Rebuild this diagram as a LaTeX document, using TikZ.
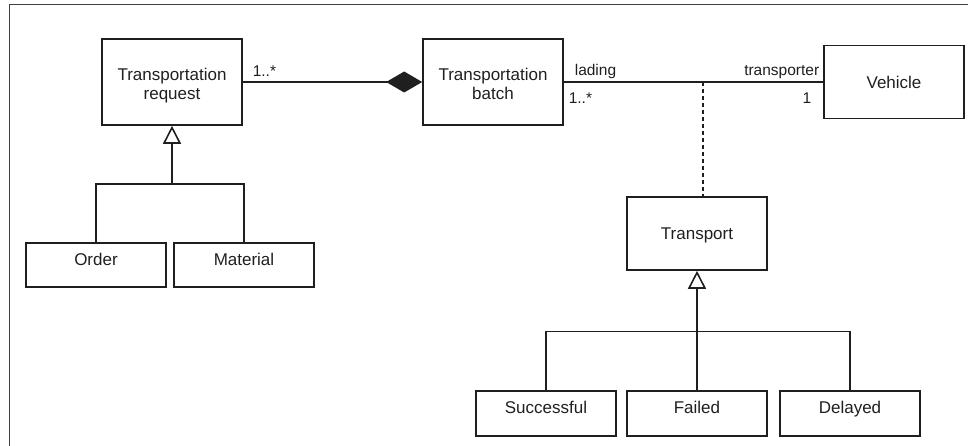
\documentclass[tikz,border=0pt]{standalone}
\usepackage{fontspec}
\setmainfont{Liberation Sans}
\usetikzlibrary{arrows.meta}
\begin{document}
\begin{tikzpicture}[x=1pt,y=-1pt,
  line width=1.6pt, color=black!88,
  cls/.style={draw, minimum width=140pt, inner sep=0pt, align=center,
    font=\fontsize{17}{19}\selectfont},
  twoline/.style={cls, minimum height=86pt, text height=40pt, text depth=4pt},
  single/.style={cls, minimum height=73pt},
  leaf/.style={cls, minimum height=44pt, text height=11pt, text depth=11pt},
  role/.style={inner sep=0pt, font=\fontsize{15.5}{17}\selectfont},
  gen/.style={-{Triangle[open, fill=white, length=18pt, width=18pt]}},
  comp/.style={-{Diamond[length=36pt, width=21pt]}},
  frameline/.style={line width=1pt, draw=black!75}
]
\useasboundingbox (0,0) rectangle (968,446);

% outer frame
\draw[frameline] (9,446) -- (9,5) -- (968,5);

% classes
\node[twoline] (req)   at (172,82)    {Transportation\\request};
\node[twoline] (batch) at (493,82)    {Transportation\\batch};
\node[single]  (veh)   at (894,82)    {Vehicle};
\node[single, text depth=0pt] (trans) at (697,233.5) {Transport};
\node[leaf]    (order) at (96,265)    {Order};
\node[leaf]    (mat)   at (244,265)   {Material};
\node[leaf, minimum height=45pt] (succ)  at (546,413.5) {Successful};
\node[leaf, minimum height=45pt] (fail)  at (697,413.5) {Failed};
\node[leaf, minimum height=45pt] (del)   at (850,413.5) {Delayed};

% composition
\draw[comp] (req.east) -- (batch.west);
\node[role, anchor=base west] (m1) at (252,77) {1..*};

% association with association class
\draw (batch.east) -- (veh.west);
\node[role, anchor=base west] (lad) at (574,76) {lading};
\node[role, anchor=base west] (m2)  at (568,104) {1..*};
\node[role, anchor=base east] (tp)  at (820,76) {transporter};
\node[role, anchor=base east] (m3)  at (812,104) {1};
\coordinate (aj) at (703,82);
\draw[dash pattern=on 4pt off 3pt] (aj) -- (aj |- trans.north);

% generalisation of requests
\coordinate (rj) at (172,184);
\draw (order.north) |- (rj) -| (mat.north);
\draw[gen] (rj) -- (req.south);

% generalisation of transports
\coordinate (tj) at (697,331.5);
\draw (succ.north) |- (tj) -| (del.north);
\draw[gen] (fail.north) -- (trans.south);
\end{tikzpicture}
\end{document}
